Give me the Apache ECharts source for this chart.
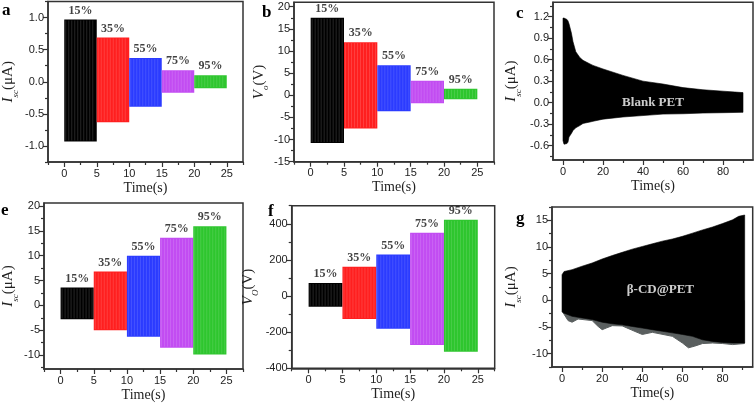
<!DOCTYPE html>
<html><head><meta charset="utf-8">
<script src="https://cdn.jsdelivr.net/npm/echarts@6/dist/echarts.min.js"></script>
<style>html,body{margin:0;padding:0;background:#fff}#chart{width:756px;height:406px}</style>
</head><body><div id="chart"></div>
<script>
// ---------------- data ----------------
const segBounds = [0, 5, 10, 15, 20, 25];
const humidity = ['15%', '35%', '55%', '75%', '95%'];

// panel a: Isc (uA) envelopes per humidity segment
const aUpper = [0.97, 0.69, 0.37, 0.18, 0.10];
const aLower = [-0.93, -0.63, -0.39, -0.17, -0.10];
// panel b: Vo (V)
const bUpper = [17.5, 12.0, 6.8, 3.3, 1.5];
const bLower = [-10.8, -7.5, -3.6, -1.8, -0.9];
// panel e: Isc (uA)
const eUpper = [3.6, 6.8, 10.0, 13.6, 15.9];
const eLower = [-2.8, -5.0, -6.3, -8.5, -9.9];
// panel f: Vo (V)
const fUpper = [72, 162, 230, 350, 422];
const fLower = [-59, -127, -181, -271, -308];

// panel c: Blank PET envelope
const cTime  = [0, 0.5, 2, 2.5, 3, 4.2, 5, 6.4, 8.4, 10, 13.5, 15, 20, 30, 40, 50, 60, 70, 80, 90];
const cUpper = [1.18, 1.18, 1.16, 1.14, 1.10, 0.97, 0.85, 0.71, 0.63, 0.59, 0.54, 0.52, 0.47, 0.38, 0.30, 0.26, 0.21, 0.18, 0.16, 0.14];
const cLower = [-0.53, -0.58, -0.57, -0.55, -0.48, -0.43, -0.39, -0.35, -0.32, -0.29, -0.27, -0.26, -0.23, -0.20, -0.18, -0.16, -0.155, -0.145, -0.14, -0.135];

// panel g: beta-CD@PET envelope
const gTime  = [0, 1, 5, 10, 15, 20, 25, 30, 35, 40, 45, 50, 55, 60, 65, 70, 75, 80, 85, 88, 91];
const gUpper = [4.8, 5.4, 5.75, 6.4, 7.0, 7.75, 8.4, 9.0, 9.6, 10.1, 10.6, 11.1, 11.5, 12.0, 12.6, 13.2, 13.75, 14.4, 15.1, 15.75, 16.0];
const gLower = [-2.1, -2.4, -3.0, -3.3, -3.6, -4.1, -4.4, -4.6, -4.9, -5.2, -5.5, -5.8, -6.1, -6.4, -6.75, -7.4, -7.7, -7.9, -8.0, -8.0, -8.0];
const gGrayTime  = [0, 1, 3, 5, 8, 15, 18, 20, 22, 25, 30, 38, 40, 45, 55, 60, 63, 66, 70, 75, 80, 85, 91];
const gGrayLower = [-2.1, -2.6, -3.8, -4.1, -3.5, -3.8, -4.9, -5.5, -5.2, -4.75, -4.8, -6.1, -6.4, -6.0, -6.75, -8.0, -8.9, -8.6, -8.1, -8.0, -8.1, -8.3, -8.1];

// tick labels
const timeTicks25 = [0, 5, 10, 15, 20, 25];
const timeTicks90 = [0, 20, 40, 60, 80];
const aYTicks = [-1.0, -0.5, 0.0, 0.5, 1.0];
const bYTicks = [-15, -10, -5, 0, 5, 10, 15, 20];
const cYTicks = [-0.6, -0.3, 0.0, 0.3, 0.6, 0.9, 1.2];
const eYTicks = [-10, -5, 0, 5, 10, 15, 20];
const fYTicks = [-400, -200, 0, 200, 400];
const gYTicks = [-10, -5, 0, 5, 10, 15];

// ---------------- helpers ----------------
const segColors = ['#000000', '#ff1f1f', '#2b3bff', '#c24cf2', '#2ec62e'];
const stripeColors = ['rgba(140,140,140,0.35)', 'rgba(255,255,255,0.18)', 'rgba(255,255,255,0.16)', 'rgba(255,255,255,0.18)', 'rgba(255,255,255,0.16)'];
const AX = '#333';
const SANS = '"Liberation Sans", Arial, sans-serif';
const SERIF = '"Liberation Serif", "Times New Roman", serif';

function minorsOf(ticks, lo, hi) {
  const step = ticks[1] - ticks[0];
  const out = [];
  for (let v = ticks[0] - step / 2; v > lo - 1e-9; v -= step / 2) out.push(v);
  for (let i = 0; i < ticks.length; i++) {
    const m = ticks[i] + step / 2;
    if (m < hi + 1e-9) out.push(m);
  }
  let v = ticks[ticks.length - 1] + step;
  while (v < hi + 1e-9) { out.push(v); if (v + step / 2 < hi + 1e-9) out.push(v + step / 2); v += step; }
  return out.filter(x => x >= lo - 1e-9 && x <= hi + 1e-9 && !ticks.some(t => Math.abs(t - x) < 1e-9));
}

function yNameRich(main, sub, tail) {
  return {
    text: '{i|' + main + '}{s|' + sub + '}{n|' + tail + '}',
    style: {
      rich: {
        i: { fontFamily: SERIF, fontStyle: 'italic', fontSize: 15, color: '#222', lineHeight: 15, padding: [0, 0, 4, 0], verticalAlign: 'bottom' },
        s: { fontFamily: SERIF, fontStyle: 'italic', fontSize: 9, color: '#222', lineHeight: 10, verticalAlign: 'bottom' },
        n: { fontFamily: SERIF, fontSize: 15, color: '#222', lineHeight: 15, padding: [0, 0, 4, 0], verticalAlign: 'bottom' }
      }
    }
  };
}

const grids = [], xAxes = [], yAxes = [], series = [];

function addPanel(cfg) {
  const gi = grids.length;
  grids.push({ left: cfg.box[0], top: cfg.box[1], width: cfg.box[2], height: cfg.box[3],
    show: true, borderColor: AX, borderWidth: 1.5, backgroundColor: 'transparent', containLabel: false });
  const xMinor = minorsOf(cfg.xTicks, cfg.xr[0], cfg.xr[1]);
  const yMinor = minorsOf(cfg.yTicks, cfg.yr[0], cfg.yr[1]);
  const xi = xAxes.length, yi = yAxes.length;
  xAxes.push({
    type: 'value', gridIndex: gi, min: cfg.xr[0], max: cfg.xr[1], position: 'bottom',
    axisLine: { show: true, onZero: false, lineStyle: { color: AX, width: 1.5 } },
    axisTick: { show: true, inside: false, length: 5, customValues: cfg.xTicks, lineStyle: { color: AX, width: 1.2 } },
    axisLabel: { show: true, customValues: cfg.xTicks, margin: 6, fontFamily: SANS, fontSize: 11, color: '#222' },
    splitLine: { show: false },
    name: 'Time(s)', nameLocation: 'middle', nameGap: cfg.xNameGap,
    nameTextStyle: { fontFamily: SERIF, fontSize: 14, color: '#222' }
  });
  xAxes.push({
    type: 'value', gridIndex: gi, min: cfg.xr[0], max: cfg.xr[1], position: 'bottom',
    axisLine: { show: false, onZero: false },
    axisTick: { show: true, inside: false, length: 3, customValues: xMinor, lineStyle: { color: AX, width: 1.2 } },
    axisLabel: { show: false }, splitLine: { show: false }
  });
  const yn = yNameRich(cfg.yName[0], cfg.yName[1], cfg.yName[2]);
  yAxes.push({
    type: 'value', gridIndex: gi, min: cfg.yr[0], max: cfg.yr[1], position: 'left',
    axisLine: { show: true, onZero: false, lineStyle: { color: AX, width: 1.5 } },
    axisTick: { show: true, inside: false, length: 5, customValues: cfg.yTicks, lineStyle: { color: AX, width: 1.2 } },
    axisLabel: { show: true, customValues: cfg.yTicks, margin: 4, fontFamily: SANS, fontSize: 11, color: '#222', formatter: cfg.yFmt },
    splitLine: { show: false },
    name: yn.text, nameLocation: 'middle', nameGap: cfg.yNameGap, nameRotate: 90,
    nameTextStyle: yn.style
  });
  yAxes.push({
    type: 'value', gridIndex: gi, min: cfg.yr[0], max: cfg.yr[1], position: 'left',
    axisLine: { show: false, onZero: false },
    axisTick: { show: true, inside: false, length: 3, customValues: yMinor, lineStyle: { color: AX, width: 1.2 } },
    axisLabel: { show: false }, splitLine: { show: false }
  });
  return { xi, yi };
}

// filled band (single polygon) between lower and upper envelopes
function band(ax, xs, lows, ups, color, z) {
  const data = xs.map((x, i) => [x, lows[i], ups[i]]);
  series.push({
    type: 'custom', xAxisIndex: ax.xi, yAxisIndex: ax.yi, silent: true, animation: false, z: z || 2,
    encode: { x: 0, y: [1, 2] }, data,
    renderItem: (params, api) => {
      if (params.dataIndex !== 0) return null;
      const top = data.map(d => api.coord([d[0], d[2]]));
      const bot = data.map(d => api.coord([d[0], d[1]])).reverse();
      return { type: 'polygon', shape: { points: top.concat(bot) }, style: { fill: color, stroke: color, lineWidth: 0.6 } };
    }
  });
}

// humidity blocks: one rectangle per segment, from lower to upper envelope, with a fine vertical hatch
function addBlocks(ax, upper, lower) {
  const data = upper.map((u, k) => [segBounds[k], segBounds[k + 1], lower[k], u, k]);
  series.push({
    type: 'custom', xAxisIndex: ax.xi, yAxisIndex: ax.yi, silent: true, animation: false, z: 2,
    encode: { x: [0, 1], y: [2, 3] }, data,
    renderItem: (params, api) => {
      const k = api.value(4);
      const p0 = api.coord([api.value(0), api.value(3)]);
      const p1 = api.coord([api.value(1), api.value(2)]);
      const children = [{ type: 'rect', shape: { x: p0[0], y: p0[1], width: p1[0] - p0[0], height: p1[1] - p0[1] },
        style: { fill: segColors[k] } }];
      for (let x = p0[0] + 1.5; x < p1[0] - 1; x += 3) {
        children.push({ type: 'line', shape: { x1: x, y1: p0[1] + 1, x2: x, y2: p1[1] - 1 },
          style: { stroke: stripeColors[k], lineWidth: 0.8 } });
      }
      return { type: 'group', children };
    }
  });
  series.push({
    type: 'scatter', xAxisIndex: ax.xi, yAxisIndex: ax.yi, symbolSize: 0, silent: true, animation: false, z: 5,
    data: upper.map((u, k) => ({ value: [(segBounds[k] + segBounds[k + 1]) / 2, u], name: humidity[k] })),
    label: { show: true, position: 'top', distance: 3, formatter: p => p.name,
      fontFamily: SERIF, fontWeight: 'bold', fontSize: 12, color: '#111' }
  });
}

function areaLine(ax, data, color, z) {
  return { type: 'line', xAxisIndex: ax.xi, yAxisIndex: ax.yi, data, symbol: 'none', silent: true,
    lineStyle: { color, width: 1 }, areaStyle: { color, opacity: 1 }, z: z || 2, animation: false };
}

function addInnerLabel(ax, x, y, text) {
  series.push({
    type: 'scatter', xAxisIndex: ax.xi, yAxisIndex: ax.yi, symbolSize: 0, silent: true, animation: false, z: 6,
    data: [{ value: [x, y], name: text }],
    label: { show: true, position: 'inside', formatter: p => p.name,
      fontFamily: SERIF, fontWeight: 'bold', fontSize: 13, color: '#fff' }
  });
}

const fmt1 = v => Number(v).toFixed(1);
const fmt0 = v => String(Math.round(v));

// ---------------- panels ----------------
const A = addPanel({ box: [43, 1.5, 200, 160.5], xr: [-2.5, 27.5], yr: [-1.25, 1.25], xTicks: timeTicks25, yTicks: aYTicks,
  yFmt: fmt1, yName: ['I', 'sc', '(μA)'], yNameGap: 28, xNameGap: 19 });
addBlocks(A, aUpper, aLower);

const B = addPanel({ box: [294, 2.3, 200, 159.4], xr: [-2.5, 27.5], yr: [-15, 21], xTicks: timeTicks25, yTicks: bYTicks,
  yFmt: fmt0, yName: ['V', 'o', '(V)'], yNameGap: 18, xNameGap: 19 });
addBlocks(B, bUpper, bLower);

const C = addPanel({ box: [553, 2.3, 200, 157.7], xr: [-5, 95], yr: [-0.8, 1.4], xTicks: timeTicks90, yTicks: cYTicks,
  yFmt: fmt1, yName: ['I', 'sc', '(μA)'], yNameGap: 30, xNameGap: 19 });
band(C, cTime, cLower, cUpper, '#000');
addInnerLabel(C, 45, 0.0, 'Blank PET');

const E = addPanel({ box: [40.5, 203, 202.5, 166], xr: [-2.5, 27.5], yr: [-12.8, 20.6], xTicks: timeTicks25, yTicks: eYTicks,
  yFmt: fmt0, yName: ['I', 'sc', '(μA)'], yNameGap: 24, xNameGap: 19 });
addBlocks(E, eUpper, eLower);

const F = addPanel({ box: [291.7, 205.7, 203, 162.6], xr: [-2.5, 27.5], yr: [-400, 500], xTicks: timeTicks25, yTicks: fYTicks,
  yFmt: fmt0, yName: ['V', 'O', '(V)'], yNameGap: 32, xNameGap: 19 });
addBlocks(F, fUpper, fLower);

const G = addPanel({ box: [552, 207, 200.7, 160], xr: [-5, 95], yr: [-12.5, 17.5], xTicks: timeTicks90, yTicks: gYTicks,
  yFmt: fmt0, yName: ['I', 'sc', '(μA)'], yNameGap: 29, xNameGap: 19 });
series.push(areaLine(G, gGrayTime.map((t, i) => [t, gGrayLower[i]]), '#5a5f5f', 1));
band(G, gTime, gLower, gUpper, '#000', 3);
addInnerLabel(G, 49, 2.0, 'β-CD@PET');

// panel letters
const letters = [['a', 2, 2], ['b', 262, 4], ['c', 516, 5], ['e', 1, 202], ['f', 268, 203], ['g', 516, 210]];
const graphic = letters.map(l => ({ type: 'text', left: l[1], top: l[2], silent: true,
  style: { text: l[0], font: 'bold 17px "Liberation Serif", serif', fill: '#000' } }));

const chart = echarts.init(document.getElementById('chart'), null, { renderer: 'canvas' });
chart.setOption({
  animation: false,
  backgroundColor: '#fff',
  grid: grids, xAxis: xAxes, yAxis: yAxes, series, graphic
});
</script>
</body></html>
